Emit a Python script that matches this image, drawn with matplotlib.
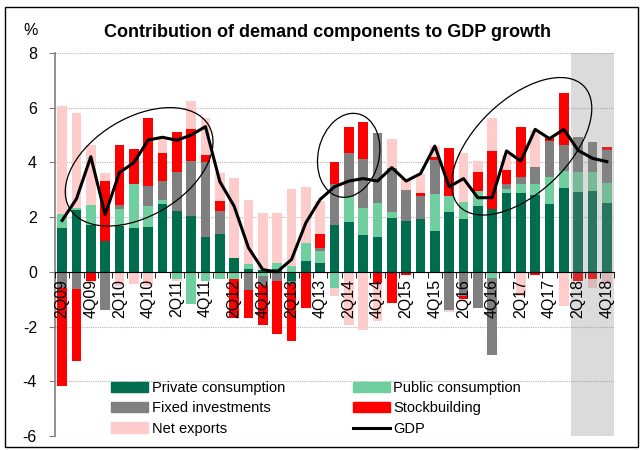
import numpy as np
import matplotlib.pyplot as plt
from matplotlib.patches import Ellipse, Rectangle, Patch
from matplotlib.lines import Line2D
from matplotlib.transforms import ScaledTranslation

plt.rcParams['font.family'] = ['Liberation Sans', 'DejaVu Sans']
plt.rcParams['axes.unicode_minus'] = False

# quarterly contributions, pp
quarters = ['2Q09', '3Q09', '4Q09',
            '1Q10', '2Q10', '3Q10', '4Q10',
            '1Q11', '2Q11', '3Q11', '4Q11',
            '1Q12', '2Q12', '3Q12', '4Q12',
            '1Q13', '2Q13', '3Q13', '4Q13',
            '1Q14', '2Q14', '3Q14', '4Q14',
            '1Q15', '2Q15', '3Q15', '4Q15',
            '1Q16', '2Q16', '3Q16', '4Q16',
            '1Q17', '2Q17', '3Q17', '4Q17',
            '1Q18', '2Q18', '3Q18', '4Q18']

private = [1.61, 2.26, 1.73, 1.12, 1.67, 1.61, 1.63, 2.47, 2.22, 2.04, 1.27,
           1.38, 0.49, 0.11, 0.05, 0.10, -0.32, 0.41, 0.34, 1.73, 1.82, 1.35,
           1.27, 1.96, 1.87, 1.93, 1.48, 2.18, 1.94, 2.40, 2.30, 2.87, 2.87,
           2.81, 2.49, 3.06, 2.93, 2.94, 2.51]
public = [0.52, 0.06, 0.71, 0.00, 0.61, 1.59, 0.77, 0.14, -0.25, -1.17, -0.34,
          -0.26, -0.27, 0.18, -0.16, 0.23, 0.20, 0.63, 0.44, -0.59, 0.91, 0.99,
          1.26, 0.24, 0.00, 0.00, 1.35, 0.61, 0.61, 0.55, -0.22, 0.17, 0.36,
          0.39, 0.99, 0.63, 0.73, 0.72, 0.75]
fixed = [-0.58, -0.62, 0.00, -1.41, 0.16, 0.00, 0.74, 0.71, 1.44, 2.01, 2.76,
         0.84, 0.00, -0.65, -0.33, -0.32, -0.14, 0.00, 0.10, 1.49, 1.63, 1.77,
         2.56, 1.61, 1.14, 0.84, 1.25, -1.38, -0.87, -1.32, -2.81, 0.16, 0.22,
         0.62, 1.31, 0.96, 1.28, 1.10, 1.18]
stock = [-3.59, -2.63, -0.35, 2.20, 2.19, 1.28, 2.50, 1.01, 1.47, 1.16, 0.23,
         0.37, -1.42, -1.04, -1.46, -1.94, -2.08, -1.33, 0.52, 0.80, 0.95, 1.38,
         -0.40, -1.14, -0.10, 0.12, 0.13, 1.75, -0.14, 0.70, 2.12, 0.51, 1.86,
         -0.10, 0.12, 1.88, -0.34, -0.26, 0.12]
net_exports = [3.94, 3.50, 2.19, 0.31, -0.53, -0.44, -0.53, 0.52, -0.07, 1.02,
               1.35, 1.01, 2.93, 2.32, 2.10, 1.83, 2.84, 2.07, 1.19, -0.30,
               -1.95, -2.14, -1.41, 1.06, 0.37, 0.67, 0.39, -0.09, 1.78, 0.40,
               1.22, 0.55, -0.89, 1.37, 0.00, -1.23, 0.00, -0.33, -0.46]
gdp = [1.88, 2.67, 4.21, 2.10, 3.63, 3.99, 4.82, 4.92, 4.81, 5.00, 5.31,
       3.30, 2.40, 0.88, 0.08, 0.00, 0.45, 1.79, 2.65, 3.11, 3.32, 3.41,
       3.32, 3.81, 3.32, 3.59, 4.60, 3.11, 3.41, 2.71, 2.71, 4.42, 4.05,
       5.21, 4.87, 5.21, 4.44, 4.15, 4.03]

names = ['Private consumption', 'Public consumption', 'Fixed investments',
         'Stockbuilding', 'Net exports']
colors = ['#006e4e', '#70cf9e', '#808080', '#ff0000', '#ffcccc']

# highlight ellipses: centre (quarter index, %), size in inches, angle
ellipse_centres = [(5.37, 3.84), (19.99, 4.26), (32.06, 4.59)]
ellipse_sizes = [(1.62, 0.98, 31), (0.85, 0.61, 77), (1.73, 0.93, 44)]

x = np.arange(len(quarters))

fig = plt.figure(figsize=(6.43, 4.5), dpi=100)
ax = fig.add_axes([0.0855, 0.0311, 0.8694, 0.8511])

pos_base = np.zeros(len(x))
neg_base = np.zeros(len(x))
for vals, col in zip([private, public, fixed, stock, net_exports], colors):
    v = np.array(vals)
    bottoms = np.where(v >= 0, pos_base, neg_base)
    ax.bar(x, v, 0.66, bottom=bottoms, color=col, lw=0, zorder=2)
    pos_base += np.clip(v, 0, None)
    neg_base += np.clip(v, None, 0)

ax.plot(x, gdp, color='black', lw=2.2, zorder=5)

# forecast shading
ax.axvspan(35.5, 38.5, color='#8a8a8a', alpha=0.3, lw=0, zorder=4)

ax.set_xlim(-0.5, 38.5)
ax.set_ylim(-6, 8)
ax.set_yticks(range(-6, 9, 2))
ax.yaxis.grid(True, linestyle=(0, (1, 1)), color='#b5b5b5', lw=0.8)
ax.set_axisbelow(True)
ax.xaxis.set_zorder(6)   # quarter labels sit on top of the bars

ax.spines['top'].set_visible(False)
ax.spines['right'].set_visible(False)
ax.spines['bottom'].set_position(('data', 0))
ax.spines['bottom'].set_color('black')
ax.spines['bottom'].set_zorder(6)
ax.spines['left'].set_color('#7f7f7f')
ax.spines['left'].set_linewidth(1.2)

ax.set_xticks(x[::2])
ax.set_xticklabels(quarters[::2], rotation=90)
ax.set_xticks(np.arange(-0.5, 39, 1), minor=True)
ax.tick_params(axis='x', which='major', length=0, pad=5, labelsize=11.5)
ax.tick_params(axis='x', which='minor', length=4, color='black')
ax.tick_params(axis='y', length=4, pad=9, labelsize=11.5, color='#7f7f7f')

for (cx, cy), (w, h, ang) in zip(ellipse_centres, ellipse_sizes):
    tr = fig.dpi_scale_trans + ScaledTranslation(cx, cy, ax.transData)
    ax.add_patch(Ellipse((0, 0), w, h, angle=ang, transform=tr, fill=False,
                         ec='black', lw=0.9, zorder=7, clip_on=False))

handles = [Patch(color=colors[0]), Patch(color=colors[2]), Patch(color=colors[4]),
           Patch(color=colors[1]), Patch(color=colors[3]),
           Line2D([], [], color='black', lw=2.2)]
labels = [names[0], names[2], names[4], names[1], names[3], 'GDP']
ax.legend(handles, labels, ncol=2, loc='lower left', bbox_to_anchor=(0.088, -0.018),
          frameon=False, fontsize=10.5, borderpad=0, handlelength=2.5,
          handletextpad=0.25, columnspacing=4.7, labelspacing=0.42)

fig.text(0.51, 0.927, 'Contribution of demand components to GDP growth',
         ha='center', va='center', fontsize=13, fontweight='bold')
fig.text(0.047, 0.933, '%', ha='center', va='center', fontsize=11.5)

fig.add_artist(Rectangle((5 / 643, 3 / 450), 633 / 643, 440 / 450,
                         transform=fig.transFigure, fill=False, ec='black', lw=1))

fig.savefig('out.png', dpi=100)
